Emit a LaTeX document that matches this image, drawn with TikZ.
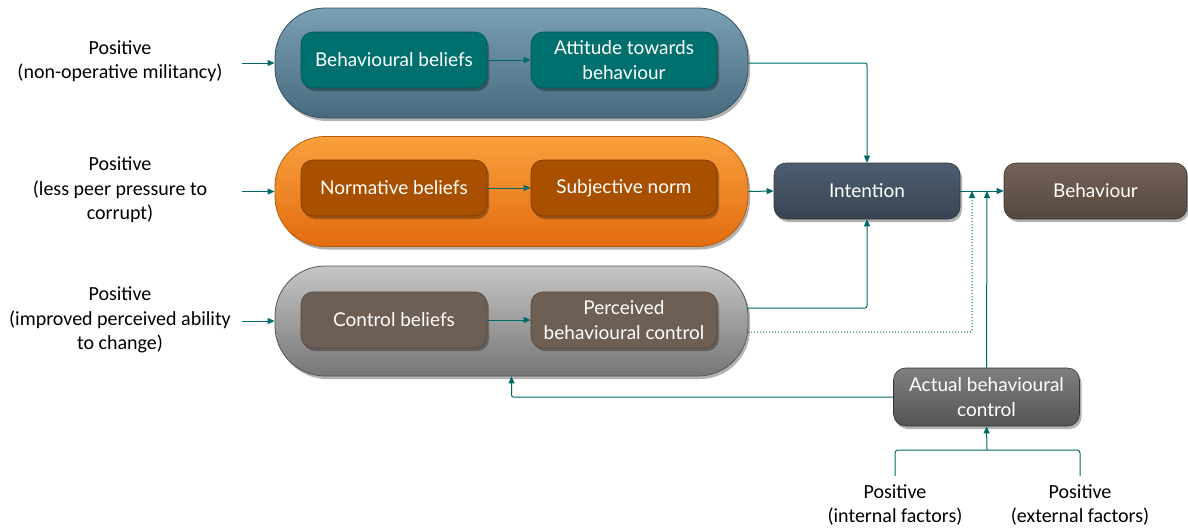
\documentclass[tikz,border=0pt]{standalone}
\usepackage{fontspec}
\setmainfont{Carlito}
\newfontfamily\nf{Lato}
\usetikzlibrary{shadows,arrows.meta,calc}
\definecolor{conncol}{RGB}{0,106,106}
\definecolor{bluetop}{RGB}{122,160,180}
\definecolor{bluebot}{RGB}{72,106,126}
\definecolor{blueedge}{RGB}{55,80,95}
\definecolor{ortop}{RGB}{250,160,60}
\definecolor{orbot}{RGB}{226,108,16}
\definecolor{oredge}{RGB}{180,90,10}
\definecolor{grtop}{RGB}{198,198,198}
\definecolor{grbot}{RGB}{118,118,118}
\definecolor{gredge}{RGB}{85,85,85}
\definecolor{tealin}{RGB}{0,112,110}
\definecolor{tealedge}{RGB}{0,85,85}
\definecolor{orin}{RGB}{168,80,0}
\definecolor{oredgein}{RGB}{120,58,0}
\definecolor{brin}{RGB}{110,95,85}
\definecolor{bredge}{RGB}{80,68,60}
\definecolor{inttop}{RGB}{78,94,112}
\definecolor{intbot}{RGB}{56,68,82}
\definecolor{behtop}{RGB}{114,98,87}
\definecolor{behbot}{RGB}{86,72,62}
\definecolor{abctop}{RGB}{128,128,128}
\definecolor{abcbot}{RGB}{84,84,84}
\tikzset{
  shad/.style={drop shadow={shadow xshift=2pt,shadow yshift=-3pt,opacity=0.3,fill=black}},
  group/.style={shad,rounded corners=50pt,minimum width=473pt,minimum height=110pt,inner sep=0pt,line width=0.8pt},
  inbox/.style={shad,rounded corners=12pt,minimum width=186pt,minimum height=56pt,inner sep=2pt,text=white,align=center,font=\nf\fontsize{19}{24.5}\selectfont,line width=0.6pt},
  lab/.style={align=center,font=\fontsize{20}{24.5}\selectfont,inner sep=0pt},
  conn/.style={draw=conncol,line width=1pt,-{Triangle[length=7pt,width=6pt]}},
  plain/.style={draw=conncol,line width=1pt},
}
\begin{document}
\begin{tikzpicture}[x=1pt,y=-1pt]
\useasboundingbox (0,0) rectangle (1188,530);
% groups
\node[group,draw=blueedge,top color=bluetop,bottom color=bluebot] (g1) at (511.5,63) {};
\node[group,draw=oredge,top color=ortop,bottom color=orbot] (g2) at (511.5,191.5) {};
\node[group,draw=gredge,top color=grtop,bottom color=grbot] (g3) at (511.5,321) {};
% inner boxes
\node[inbox,fill=tealin,draw=tealedge] (bb) at (394,60) {Behavioural beliefs};
\node[inbox,fill=tealin,draw=tealedge] (at) at (624,60) {Attitude towards\\behaviour};
\node[inbox,fill=orin,draw=oredgein] (nb) at (394,188) {Normative beliefs};
\node[inbox,fill=orin,draw=oredgein] (sn) at (624,188) {Subjective norm};
\node[inbox,fill=brin,draw=bredge] (cb) at (394,320) {Control beliefs};
\node[inbox,fill=brin,draw=bredge] (pbc) at (624,320) {Perceived\\behavioural control};
% right boxes
\node[inbox,top color=inttop,bottom color=intbot,draw=black!80] (int) at (867,191) {Intention};
\node[inbox,top color=behtop,bottom color=behbot,draw=black!80,minimum width=183pt] (beh) at (1095.5,191) {Behaviour};
\node[inbox,top color=abctop,bottom color=abcbot,draw=black!80,minimum height=58pt] (abc) at (986.5,397) {Actual behavioural\\control};
% labels
\node[lab] (l1) at (120,61) {Positive\\(non-operative militancy)};
\node[lab] (l2) at (120,190) {Positive\\(less peer pressure to\\corrupt)};
\node[lab] (l3) at (120,320) {Positive\\(improved perceived ability\\to change)};
\node[lab] (li) at (895,505) {Positive\\(internal factors)};
\node[lab] (le) at (1080,505) {Positive\\(external factors)};
% coordinates
\coordinate (s1) at (242,63);
\coordinate (s2) at (242,191.5);
\coordinate (s3) at (242,321);
\coordinate (g3a) at (748,308);
\coordinate (g3b) at (748,332);
\coordinate (dotx) at (972,191);
\coordinate (solx) at (987,191);
\coordinate (ib) at (895,476);
\coordinate (eb) at (1080,476);
\coordinate (jn) at (987,450);
% connectors
\draw[conn] (s1) -- (g1.west);
\draw[conn] (s2) -- (g2.west);
\draw[conn] (s3) -- (g3.west);
\draw[conn] (bb) -- (at);
\draw[conn] (nb) -- (sn);
\draw[conn] (cb) -- (pbc);
\draw[conn,rounded corners=2pt] (g1.east) -| (int.north);
\draw[conn] (g2.east) -- (int.west);
\draw[conn,rounded corners=2pt] (g3a) -| (int.south);
\draw[conn,dotted,rounded corners=2pt] (g3b) -| (dotx);
\draw[conn] (int.east) -- (beh.west);
\draw[conn] (abc.north) -- (solx);
\draw[conn,rounded corners=2pt] (abc.west) -| (g3.south);
\draw[plain,rounded corners=3pt] (ib) |- (jn) -| (eb);
\draw[conn] (jn) -- (abc.south);
\end{tikzpicture}
\end{document}
